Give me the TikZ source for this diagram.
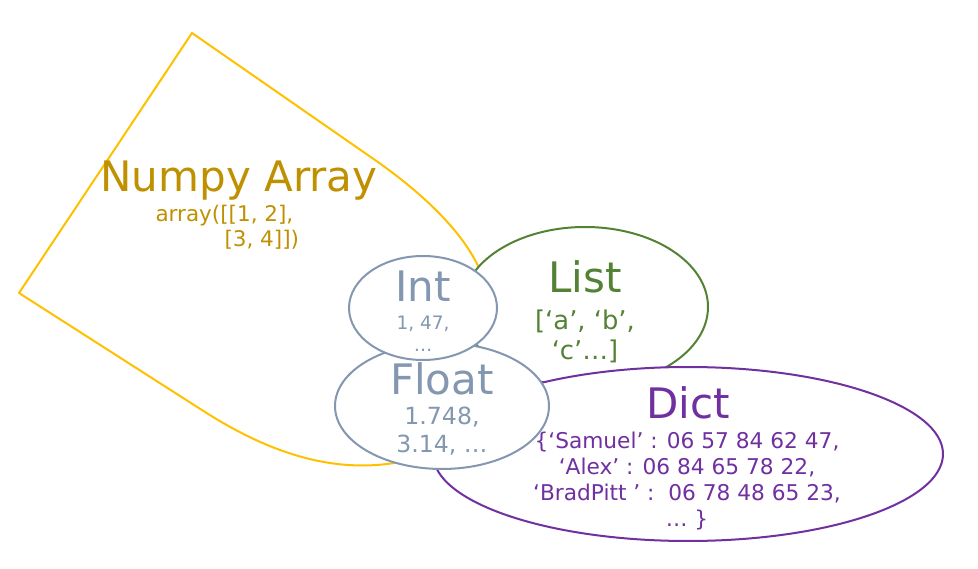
\documentclass[tikz,border=0pt]{standalone}
\usepackage{fontspec}
\setmainfont{DejaVu Sans}
\usetikzlibrary{positioning,shapes.geometric}
\definecolor{tyNumpy}{HTML}{FFC000}
\definecolor{tyNumpyTxt}{HTML}{BF9000}
\definecolor{tyList}{HTML}{548235}
\definecolor{tyNum}{HTML}{8497B0}
\definecolor{tyDict}{HTML}{7030A0}
\newcommand{\fsz}[2]{\fontsize{#1}{#2}\selectfont}

\begin{document}
\begin{tikzpicture}[x=1pt,y=-1pt, set/.style={ellipse,draw,fill=white,line width=2pt,inner sep=0pt}, ttl/.style={anchor=base,font=\fsz{42}{50}}, val/.style={anchor=base,align=center}]
\useasboundingbox (0,0) rectangle (978,569);
% numpy area, its round corner hides under the ellipses
\draw[tyNumpy,line width=2pt,line join=round] (192,33) -- (375,160) .. controls (425,195) and (462,232) .. (478,266)
  .. controls (495,310) and (470,430) .. (400,462) .. controls (330,475) and (265,450) .. (205,412) -- (19,293) -- cycle;
\node[set,draw=tyList,minimum width=246pt,minimum height=160pt] (list) at (585,307) {};
\node[set,draw=tyDict,minimum width=510pt,minimum height=174pt] (dict) at (688,454) {};
\node[set,draw=tyNum,minimum width=214pt,minimum height=126pt] (float) at (442,406) {};
\node[set,draw=tyNum,minimum width=148pt,minimum height=104pt] (int) at (423,308) {};
% labels (base = last line)
\node[ttl,text=tyNumpyTxt] (numpyname) at (239,192) {Numpy Array};
\node[anchor=base west,align=left,text=tyNumpyTxt,font=\fsz{21.5}{25}] (numpyval) at (152,247) {array([[1, 2],\\\hspace*{69pt}[3, 4]])};
\node[ttl,text=tyNum] (intname) at (423,302) {Int};
\node[val,text=tyNum,font=\fsz{18.5}{22}] (intval) at (423,352) {1, 47,\\…};
\node[ttl,text=tyList] (listname) at (585,293) {List};
\node[val,text=tyList,font=\fsz{25.8}{30}] (listval) at (585,360) {[‘a’, ‘b’,\\‘c’…]};
\node[ttl,text=tyNum] (floatname) at (442,395) {Float};
\node[val,text=tyNum,font=\fsz{23.6}{28.5}] (floatval) at (442,453) {1.748,\\3.14, …};
\node[ttl,text=tyDict] (dictname) at (688,418) {Dict};
\node[val,text=tyDict,font=\fsz{21.7}{26}] (dictval) at (687,526) {\{‘Samuel’ : 06 57 84 62 47,\\‘Alex’ : 06 84 65 78 22,\\‘BradPitt ’ :\ \ 06 78 48 65 23,\\… \}};
\end{tikzpicture}
\end{document}
